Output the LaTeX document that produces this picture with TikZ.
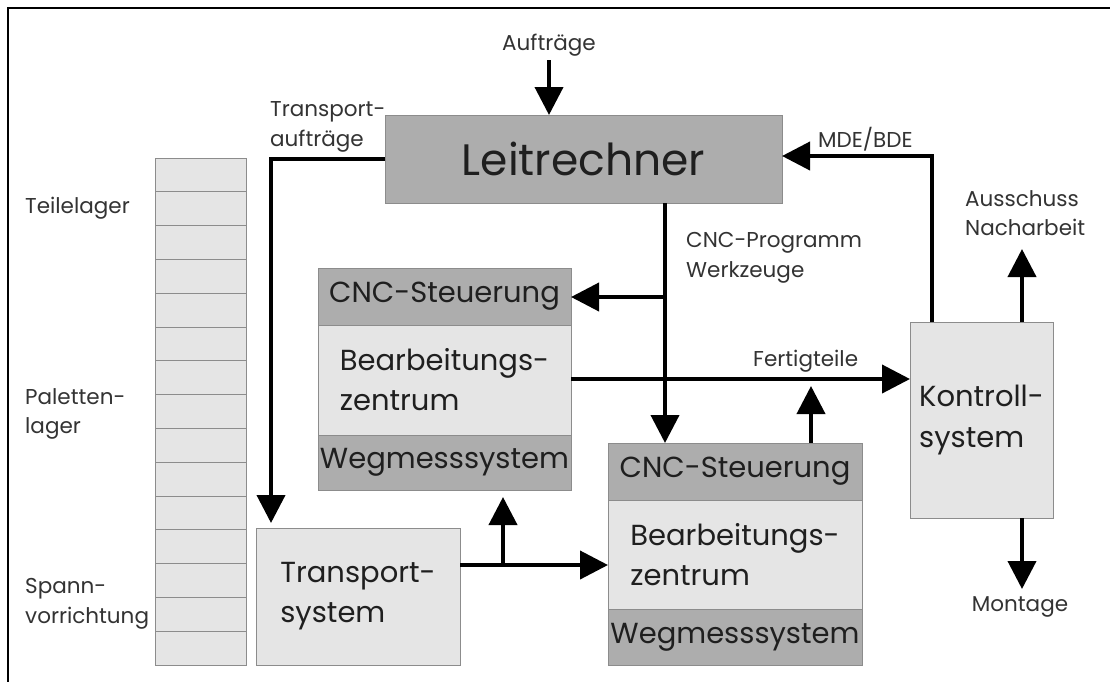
\documentclass[tikz,border=0pt]{standalone}
\usepackage{fontspec}
\setmainfont{Poppins}
\usetikzlibrary{arrows.meta}
\begin{document}
\begin{tikzpicture}[x=1pt,y=-1pt,
  box/.style={draw=black!45, line width=1pt, anchor=north west, inner sep=0pt, outer sep=0pt, text=black!88},
  lightbox/.style={box, fill=black!10},
  darkbox/.style={box, fill=black!32},
  arr/.style={line width=4pt, -{Triangle[width=28pt,length=28pt]}},
  lbl/.style={font=\fontsize{21.5}{29.5}\selectfont, text=black!80, align=left, inner sep=0pt, anchor=west},
  boxfont/.style={font=\fontsize{29}{40}\selectfont},
]
\useasboundingbox (0,0) rectangle (1110,681);
\fill[white] (0,0) rectangle (1110,681);
% frame
\draw[line width=1.8pt] (8,690) -- (8,8) -- (1120,8);

% shelf
\foreach \i in {1,...,15}{
  \node[lightbox, minimum width=91pt, minimum height=33.8pt] (cell\i) at (155,{158+(\i-1)*33.8}) {};
}
\node[lbl] (teile) at (25,208) {Teilelager};
\node[lbl] (palett) at (25,414) {Paletten-\\lager};
\node[lbl] (spann) at (25,604) {Spann-\\vorrichtung};

% Leitrechner
\node[darkbox, minimum width=397pt, minimum height=88pt, font=\fontsize{44}{50}\selectfont] (leit) at (385,115) {Leitrechner};
\node[lbl, anchor=center] (auftr) at (549,45) {Aufträge};
\node[lbl] (tauf) at (270,127) {Transport-\\aufträge};

% CNC 1
\node[darkbox, boxfont, minimum width=253pt, minimum height=57pt] (s1) at (318,268) {CNC-Steuerung};
\node[lightbox, boxfont, minimum width=253pt, minimum height=110pt, align=left] (b1) at (318,325) {Bearbeitungs-\\zentrum};
\node[darkbox, boxfont, minimum width=253pt, minimum height=55pt] (w1) at (318,435) {Wegmesssystem};

% CNC 2
\node[darkbox, boxfont, minimum width=254pt, minimum height=57pt] (s2) at (608,443) {CNC-Steuerung};
\node[lightbox, boxfont, minimum width=254pt, minimum height=109pt, align=left] (b2) at (608,500) {Bearbeitungs-\\zentrum};
\node[darkbox, boxfont, minimum width=254pt, minimum height=56pt] (w2) at (608,609) {Wegmesssystem};

% Transport system
\node[lightbox, boxfont, minimum width=204pt, minimum height=137pt, align=left] (trans) at (256,528) {Transport-\\system};

% Kontrollsystem
\node[lightbox, boxfont, minimum width=143pt, minimum height=196pt, align=left] (kon) at (910,322) {Kontroll-\\system};

% labels
\node[lbl] (cncp) at (686,258) {CNC-Programm\\Werkzeuge};
\node[lbl] (fert) at (753,361) {Fertigteile};
\node[lbl] (mde) at (818,139) {MDE/BDE};
\node[lbl] (aus) at (965,213) {Ausschuss\\Nacharbeit};
\node[lbl, anchor=center] (mont) at (1020,607) {Montage};

% connectors
\draw[arr] (auftr.south |- 0,60) -- (auftr.south |- leit.north);
\coordinate (ta) at (271,523);
\draw[arr] (leit.west) -| (ta);

\coordinate (cp) at (665,203);
\coordinate (cpe) at (665,443);
\draw[arr] (cp) -- (cpe);
\coordinate (br1) at (665,297);
\draw[arr] (br1) -- (br1 -| s1.east);

\draw[arr] (b1.east |- 0,379) -- (kon.west |- 0,379);
\coordinate (up2) at (811,443);
\draw[arr] (up2) -- (811,386);

\coordinate (tr) at (460,565);
\draw[arr] (tr) -- (tr -| b2.west);
\coordinate (br2) at (503,565);
\draw[arr] (br2) -- (503,497);

\coordinate (mdes) at (932,322);
\draw[arr] (mdes) |- (leit.east |- 0,156);
\coordinate (auss) at (1022,322);
\draw[arr] (auss) -- (1022,249);
\coordinate (monts) at (1022,518);
\draw[arr] (monts) -- (1022,589);
\end{tikzpicture}
\end{document}
